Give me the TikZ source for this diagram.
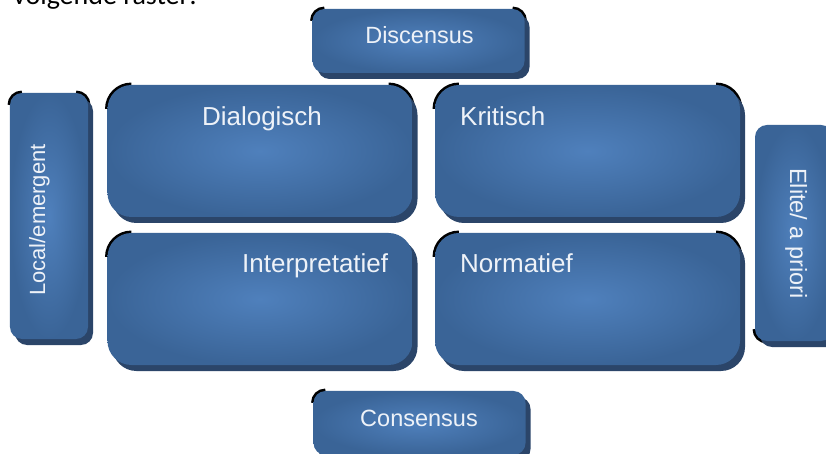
\documentclass[tikz,border=0pt]{standalone}
\usepackage{fontspec}
\setmainfont{Liberation Sans}
\newfontfamily\bodyfont{Carlito}
\usetikzlibrary{shadows,calc}
\pgfdeclarelayer{paper}
\pgfdeclarelayer{marks}
\pgfsetlayers{paper,marks,main}
\definecolor{panelin}{HTML}{4F80BC}
\definecolor{panelout}{HTML}{3A6497}
\definecolor{panelshade}{HTML}{2B4569}
\definecolor{labelc}{HTML}{EEF2F8}
% black arc behind one rounded corner: node, anchor, x step, y step, radius
\newcommand\cornerarc[5]{%
  \draw[cornermark, rounded corners=#5bp] ($(#1.#2)+(0,#4)$) -- (#1.#2) -- ($(#1.#2)+(#3,0)$);}
\begin{document}
\begin{tikzpicture}[x=1bp,y=-1bp,
  panel/.style={inner color=panelin, outer color=panelout, draw=none, inner sep=0pt,
    drop shadow={shadow xshift=5bp, shadow yshift=-6bp, fill=panelshade, opacity=1}},
  bigpanel/.style={panel, minimum width=305bp, minimum height=132bp, rounded corners=24bp},
  tabpanel/.style={panel, minimum width=212bp, minimum height=64bp, rounded corners=12bp},
  sidepanel/.style={panel, minimum width=78bp, rounded corners=12bp},
  caption/.style={text=labelc, inner sep=0pt, font=\fontsize{26bp}{30bp}\selectfont},
  tabcaption/.style={caption, font=\fontsize{23.5bp}{28bp}\selectfont},
  sidecaption/.style={caption, font=\fontsize{22bp}{26bp}\selectfont},
  cornermark/.style={draw=black, line width=4.5bp}
]
\clip (0,0) rectangle (826,454);
\begin{pgfonlayer}{paper}
  \fill[white] (0,0) rectangle (826,454);
\end{pgfonlayer}

% line of body text above the chart
\node[anchor=base west, inner sep=0pt, font=\bodyfont\fontsize{28bp}{32bp}\selectfont] (intro) at (13,4.5) {volgende raster:};

% axis tabs
\node[tabpanel] (disc) at (418.5,41) {};
\node[tabpanel] (cons) at (419.5,423) {};
\node[sidepanel, minimum height=246bp] (loc) at (49,216) {};
\node[sidepanel, minimum height=216bp] (eli) at (794,233) {};

% quadrants
\node[bigpanel] (dia) at (260,151) {};
\node[bigpanel] (kri) at (587.5,151) {};
\node[bigpanel] (int) at (260,299) {};
\node[bigpanel] (nor) at (587.5,299) {};

% corner marks, partly hidden behind the panels
\begin{pgfonlayer}{marks}
  \cornerarc{disc}{north west}{12}{12}{12}
  \cornerarc{disc}{north east}{-12}{12}{12}
  \cornerarc{cons}{north west}{12}{12}{12}
  \cornerarc{loc}{north west}{12}{12}{12}
  \cornerarc{loc}{north east}{-12}{12}{12}
  \cornerarc{eli}{south west}{12}{-12}{12}
  \cornerarc{dia}{north west}{24}{24}{24}
  \cornerarc{dia}{north east}{-24}{24}{24}
  \cornerarc{kri}{north west}{24}{24}{24}
  \cornerarc{kri}{north east}{-24}{24}{24}
  \cornerarc{int}{north west}{24}{24}{24}
  \cornerarc{nor}{north west}{24}{24}{24}
  \cornerarc{nor}{north east}{-24}{24}{24}
\end{pgfonlayer}

% labels
\node[tabcaption, anchor=base] (discl) at (419.5,44) {Discensus};
\node[tabcaption, anchor=base] (consl) at (419,426) {Consensus};
\node[caption, anchor=base] (dial) at (262,126) {Dialogisch};
\node[caption, anchor=base west] (kril) at (460,126) {Kritisch};
\node[caption, anchor=base west] (intl) at (242,273) {Interpretatief};
\node[caption, anchor=base west] (norl) at (460,273) {Normatief};
\node[sidecaption, anchor=base, rotate=90] (locl) at (45,220) {Local/emergent};
\node[tabcaption, anchor=base, rotate=-90] (elil) at (790,233.5) {Elite/ a priori};
\end{tikzpicture}
\end{document}
